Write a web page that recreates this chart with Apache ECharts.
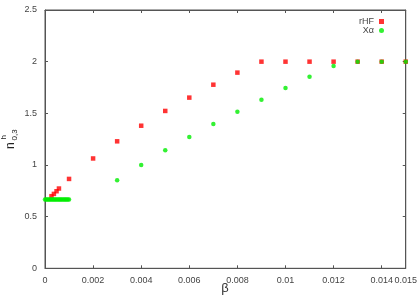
<!DOCTYPE html>
<html><head><meta charset="utf-8">
<script src="https://cdn.jsdelivr.net/npm/echarts@6/dist/echarts.min.js"></script>
<style>html,body{margin:0;padding:0;background:#fff}#c{width:420px;height:295px}</style>
</head><body><div id="c"></div>
<script>
const rhfX = [0.00027,0.00037,0.00048,0.00058,0.001,0.002,0.003,0.004,0.005,0.006,0.007,0.008,0.009,0.010,0.011,0.012,0.013,0.014,0.015];
const rhfY = [0.698,0.720,0.746,0.772,0.865,1.063,1.229,1.380,1.523,1.652,1.777,1.894,2.0,2.0,2.0,2.0,2.0,2.0,2.0];
const xaX = [0,0.00005,0.0001,0.00015,0.0002,0.00025,0.0003,0.00035,0.0004,0.00045,0.0005,0.00055,0.0006,0.00065,0.0007,0.00075,0.0008,0.00085,0.0009,0.00095,0.001,0.003,0.004,0.005,0.006,0.007,0.008,0.009,0.010,0.011,0.012,0.013,0.014,0.015];
const xaY = [0.665,0.665,0.665,0.665,0.665,0.665,0.665,0.665,0.665,0.665,0.665,0.665,0.665,0.665,0.665,0.665,0.665,0.665,0.665,0.665,0.665,0.852,1.0,1.142,1.271,1.397,1.516,1.632,1.745,1.855,1.958,2.0,2.0,2.0];
const xTicks = ['0','0.002','0.004','0.006','0.008','0.01','0.012','0.014'];
const yTicks = ['0','0.5','1','1.5','2','2.5'];

const FF = 'Liberation Sans, Arial, sans-serif';
const mkLine = () => ({show:true, onZero:false, lineStyle:{color:'#555', width:1}});
const mkTick = () => ({show:true, inside:true, length:3, lineStyle:{color:'#555', width:1}});
const chart = echarts.init(document.getElementById('c'));
chart.setOption({
  animation:false,
  grid:{left:45, right:12.5, top:10, bottom:26.7, show:true, borderColor:'#555', borderWidth:1},
  legend:{
    orient:'vertical', right:31, top:12, align:'right',
    itemWidth:5, itemHeight:5, itemGap:0,
    textStyle:{fontSize:9, color:'#444'},
    data:[{name:'rHF', icon:'rect'},{name:'Xα', icon:'circle'}]
  },
  xAxis:[{type:'value', min:0, max:0.015, interval:0.002, position:'bottom', axisLine:mkLine(), axisTick:mkTick(), splitLine:{show:false}, axisLabel:{fontSize:9, color:'#444'}},
         {type:'value', min:0, max:0.015, interval:0.002, position:'top', axisLine:mkLine(), axisTick:mkTick(), axisLabel:{show:false}, splitLine:{show:false}}],
  yAxis:[{type:'value', min:0, max:2.5, interval:0.5, position:'left', axisLine:mkLine(), axisTick:mkTick(), splitLine:{show:false}, axisLabel:{fontSize:9, color:'#444'}},
         {type:'value', min:0, max:2.5, interval:0.5, position:'right', axisLine:mkLine(), axisTick:mkTick(), axisLabel:{show:false}, splitLine:{show:false}}],
  graphic:[
    {type:'group', x:14.5, y:149, rotation:Math.PI/2, children:[
      {type:'text', x:0, y:2.5, style:{text:'n', fontSize:12, fill:'#222', verticalAlign:'bottom'}},
      {type:'text', x:8.5, y:4, style:{text:'0,3', fontSize:8, fill:'#222', verticalAlign:'bottom'}},
      {type:'text', x:9.5, y:-6.5, style:{text:'h', fontSize:8, fill:'#222', verticalAlign:'bottom'}}
    ]},
    {type:'text', x:225, y:288, style:{text:'β', fontSize:13, fill:'#333', align:'center', verticalAlign:'middle'}}
  ],
  series:[{
    name:'rHF', type:'scatter', symbol:'rect', symbolSize:4.5,
    itemStyle:{color:'#ff0000'},
    data:rhfX.map((x,i)=>[x,rhfY[i]])
  },{
    name:'Xα', type:'scatter', symbol:'circle', symbolSize:4.5,
    itemStyle:{color:'#00ee00'},
    data:xaX.map((x,i)=>[x,xaY[i]])
  }]
});
</script></body></html>
